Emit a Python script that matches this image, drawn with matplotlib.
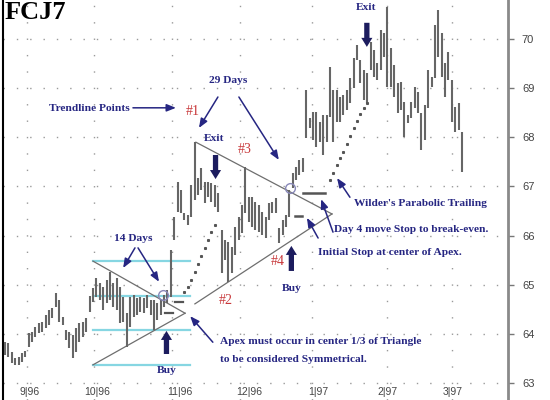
import numpy as np
import matplotlib
matplotlib.use("Agg")
import matplotlib.pyplot as plt

# daily bars, FCJ7 (high / low)
highs = [63.83, 63.81, 63.63, 63.51, 63.53, 63.61, 63.65, 64.02, 64.04, 64.14,
         64.22, 64.24, 64.38, 64.48, 64.53, 64.83, 64.69, 64.34, 64.08, 64.04,
         63.98, 64.12, 64.22, 64.24, 64.32, 64.77, 64.93, 65.14, 65.03, 64.95,
         65.10, 65.26, 65.03, 65.14, 64.95, 64.75, 64.42, 64.75, 64.79, 64.73,
         64.75, 64.73, 64.79, 64.69, 64.69, 64.63, 64.69, 64.79, 64.89, 65.71,
         66.38, 67.09, 66.93, 66.46, 66.42, 67.03, 67.90, 67.17, 67.38, 67.09,
         67.09, 67.07, 67.03, 66.87, 66.11, 65.91, 65.87, 65.77, 66.17, 66.38,
         66.62, 67.40, 66.78, 66.78, 66.68, 66.62, 66.48, 66.38, 66.66, 66.68,
         66.76, 66.15, 66.32, 66.42, 66.93, 67.27, 67.40, 67.54, 67.58, 68.96,
         68.39, 68.51, 68.51, 68.31, 68.45, 68.45, 69.43, 68.96, 68.96, 68.82,
         68.86, 68.96, 69.21, 69.61, 69.88, 69.57, 69.37, 69.31, 69.94, 69.78,
         69.51, 70.18, 70.12, 70.65, 69.82, 69.47, 69.11, 69.13, 68.72, 68.45,
         68.72, 69.02, 68.92, 68.49, 68.66, 69.37, 69.23, 70.29, 70.59, 70.12,
         69.51, 69.74, 69.17, 68.62, 68.70, 68.11]
lows = [63.57, 63.53, 63.41, 63.37, 63.37, 63.43, 63.53, 63.73, 63.83, 63.94,
        64.02, 64.04, 64.12, 64.18, 64.32, 64.55, 64.24, 64.18, 63.87, 63.71,
        63.51, 63.63, 63.83, 63.94, 64.04, 64.44, 64.65, 64.75, 64.69, 64.49,
        64.63, 64.69, 64.55, 64.49, 64.22, 64.24, 63.73, 64.14, 64.34, 64.38,
        64.44, 64.42, 64.53, 64.38, 64.08, 64.28, 64.38, 64.55, 64.63, 64.75,
        65.91, 66.48, 66.46, 66.32, 66.22, 66.38, 66.72, 66.83, 66.93, 66.66,
        66.78, 66.68, 66.58, 66.48, 65.24, 65.50, 65.06, 65.24, 65.60, 65.91,
        66.05, 66.46, 66.28, 66.17, 66.11, 66.07, 66.01, 65.95, 66.32, 66.46,
        66.46, 65.85, 66.01, 66.17, 66.38, 66.97, 67.13, 67.23, 67.29, 67.98,
        68.19, 67.94, 67.80, 67.90, 67.64, 67.90, 68.41, 67.90, 68.31, 68.31,
        68.45, 68.56, 68.70, 69.00, 69.57, 69.11, 68.76, 68.70, 69.37, 69.23,
        69.17, 69.37, 69.63, 69.02, 69.02, 68.82, 68.49, 68.56, 68.01, 68.29,
        68.39, 68.60, 68.49, 67.74, 67.94, 68.60, 69.02, 69.21, 69.63, 69.23,
        68.82, 69.17, 68.31, 68.11, 68.15, 67.29]

# Wilder's parabolic SAR dots (bar index, price)
sar1_idx = [53, 54, 55, 56, 57, 58, 59, 60, 61, 62]
sar1 = [64.85, 64.95, 65.10, 65.26, 65.42, 65.58, 65.75, 65.91, 66.07, 66.22]
sar2_idx = [96, 97, 98, 99, 100, 101, 102, 103, 104, 105, 106, 107]
sar2 = [67.13, 67.27, 67.44, 67.58, 67.70, 67.86, 68.03, 68.19, 68.33, 68.47, 68.60, 68.70]

# trendlines (index, price)
small_upper = [(26.0, 65.48), (53.2, 64.42)]
small_lower = [(26.0, 63.37), (53.2, 64.42)]
big_upper = [(56.4, 67.90), (96.6, 66.44)]
big_lower = [(56.1, 64.61), (96.6, 66.44)]
third_levels = [65.48, 64.78, 64.07, 63.37]

month_grid = [6.5, 26.3, 49.3, 69.4, 90.7, 112.9, 132.0]
month_labels = ['9|96', '10|96', '11|96', '12|96', '1|97', '2|97', '3|97']
label_pos = [7.4, 27.2, 51.7, 72.1, 92.5, 112.9, 132.3]

navy = '#262682'
red = '#c8383a'
serif = 'Liberation Serif'

fig = plt.figure(figsize=(5.5, 4), dpi=100)
ax = fig.add_axes([3 / 550, 0, 505 / 550, 1])
ax.set_xlim(-0.59, 148.6)
ax.set_ylim(62.654, 70.794)

# grid
for p in range(63, 71):
    ax.axhline(p, color='#9a9a9a', lw=1.0, ls=(0, (1, 8.6)), zorder=0)
for m in month_grid:
    ax.axvline(m, color='#9a9a9a', lw=1.0, ls=(0, (1, 10.8)), zorder=0)

# bars
idx = np.arange(len(highs))
ax.vlines(idx, lows, highs, color='#666666', lw=1.5, zorder=3)

# sar
ax.plot(sar1_idx, sar1, ls='none', marker='s', ms=1.2, color='#555555', zorder=3)
ax.plot(sar2_idx, sar2, ls='none', marker='s', ms=1.2, color='#555555', zorder=3)

# triangles
for ln in [small_upper, small_lower, big_upper, big_lower]:
    ax.plot([ln[0][0], ln[1][0]], [ln[0][1], ln[1][1]], color='#6e6e6e', lw=0.9, zorder=2)
for lv in third_levels:
    ax.plot([26.0, 54.7], [lv, lv], color='#86d6e2', lw=1.6, zorder=1)

# stop lines
ax.plot([50.2, 52.6], [64.65, 64.65], color='#555555', lw=1.6, zorder=4)
ax.plot([47.3, 49.6], [64.42, 64.42], color='#555555', lw=1.6, zorder=4)
ax.plot([88.0, 94.5], [66.87, 66.87], color='#555555', lw=1.8, zorder=4)
ax.plot([85.7, 87.7], [66.40, 66.40], color='#555555', lw=1.8, zorder=4)

# breakout circles
ax.plot([46.7], [64.79], marker='o', ms=7, mfc='none', mec='#8888b8', mew=1, zorder=5)
ax.plot([84.2], [66.97], marker='o', ms=7, mfc='none', mec='#8888b8', mew=1, zorder=5)

# text
def label(x, y, s, color=navy, size=8.2, ha='center', weight='bold'):
    ax.text(x, y, s, color=color, fontsize=size, fontweight=weight, family=serif,
            ha=ha, va='center', zorder=6)

def arrow(x0, y0, x1, y1):
    ax.annotate('', xy=(x1, y1), xytext=(x0, y0),
                arrowprops=dict(arrowstyle='-|>,head_width=0.22,head_length=0.55',
                                color=navy, lw=1.1, shrinkA=0, shrinkB=0), zorder=6)

def block(x, y0, y1):
    ax.annotate('', xy=(x, y1), xytext=(x, y0),
                arrowprops=dict(arrowstyle='simple,head_width=0.8,head_length=0.65,tail_width=0.38',
                                color='#1c1c5e', lw=0, shrinkA=0, shrinkB=0), zorder=6)

ax.text(0.004, 0.997, 'FCJ7', transform=ax.transAxes, fontsize=19, fontweight='bold',
        family=serif, ha='left', va='top', color='black')

label(106.6, 70.65, 'Exit')
block(106.9, 70.33, 69.84)
label(65.9, 69.15, '29 Days')
arrow(62.9, 68.82, 57.3, 68.19)
arrow(69.1, 68.82, 80.9, 67.54)
label(24.8, 68.58, 'Trendline Points')
arrow(37.8, 68.60, 50.5, 68.60)
label(55.5, 68.52, '#1', color=red, size=10, weight='normal')
label(61.7, 67.98, 'Exit')
block(62.2, 67.64, 67.15)
label(70.9, 67.76, '#3', color=red, size=10, weight='normal')
label(65.3, 64.67, '#2', color=red, size=10, weight='normal')
label(80.6, 65.48, '#4', color=red, size=10, weight='normal')
label(37.8, 65.95, '14 Days')
arrow(38.4, 65.75, 34.9, 65.34)
arrow(39.3, 65.75, 45.5, 65.06)
label(47.9, 63.26, 'Buy')
block(47.7, 63.59, 64.06)
label(84.8, 64.93, 'Buy')
block(84.6, 65.28, 65.79)
label(63.5, 63.85, 'Apex must occur in center 1/3 of Triangle', ha='left')
label(63.5, 63.47, 'to be considered Symmetrical.', ha='left')
arrow(61.4, 63.83, 54.7, 64.36)
label(122.6, 66.66, "Wilder's Parabolic Trailing")
label(119.9, 66.13, 'Day 4 move Stop to break-even.')
label(113.7, 65.65, 'Initial Stop at center of Apex.')
arrow(101.9, 66.78, 98.1, 67.17)
arrow(96.9, 66.07, 93.4, 66.74)
arrow(92.5, 65.95, 89.2, 66.36)

# axes styling
for s in ['top', 'bottom']:
    ax.spines[s].set_visible(False)
ax.spines['left'].set_color('black')
ax.spines['left'].set_linewidth(1.5)
ax.spines['right'].set_color('#8a8a8a')
ax.spines['right'].set_linewidth(2)
ax.yaxis.tick_right()
ax.set_yticks(range(63, 71))
ax.tick_params(axis='y', length=4, width=1, color='#777777', pad=6,
               labelsize=8, labelcolor='#444444')
ax.set_xticks([])
for lab in ax.get_yticklabels():
    lab.set_family('Liberation Sans')

for pos, s in zip(label_pos, month_labels):
    ax.text(pos, 0.02, s, transform=ax.get_xaxis_transform(), ha='center', va='center',
            fontsize=7.5, color='#444444', family='Liberation Sans')

fig.savefig('out.png', dpi=100)
